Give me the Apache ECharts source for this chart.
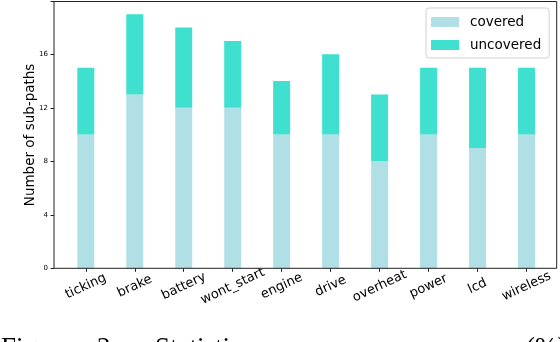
<!DOCTYPE html>
<html>
<head>
<meta charset="utf-8">
<script src="https://cdn.jsdelivr.net/npm/echarts@6/dist/echarts.min.js"></script>
<style>
html,body{margin:0;padding:0;background:#fff;}
#c{width:560px;height:342px;}
</style>
</head>
<body>
<div id="c"></div>
<script>
const categories = ['ticking','brake','battery','wont_start','engine','drive','overheat','power','lcd','wireless'];
const covered = [10,13,12,12,10,10,8,10,9,10];
const uncovered = [5,6,6,5,4,6,5,5,6,5];
const yTicks = [0,4,8,12,16];

const chart = echarts.init(document.getElementById('c'), null, {renderer:'canvas'});
const F = 'DejaVu Sans';
const CAP = '27px "Liberation Serif"';
chart.setOption({
  animation:false,
  textStyle:{fontFamily:F},
  grid:{left:61.3, right:9, top:1.5, bottom:73.7},
  xAxis:{
    type:'category', data:categories,
    axisLine:{show:false},
    axisTick:{show:true, alignWithLabel:true, length:3.5, lineStyle:{color:'#222'}},
    axisLabel:{rotate:25, fontSize:13, color:'#000', fontFamily:F, margin:18, align:'center', verticalAlign:'middle'}
  },
  yAxis:{
    type:'value', min:0, max:19.95, interval:4, offset:7.3,
    name:'Number of sub-paths', nameLocation:'middle', nameGap:17, nameMoveOverlap:false,
    nameTextStyle:{fontSize:13.5, color:'#000', fontFamily:F},
    axisLine:{show:false},
    axisTick:{show:true, length:3.5, lineStyle:{color:'#222'}},
    axisLabel:{fontSize:7, color:'#000', margin:6, fontFamily:F,
      formatter:v=> yTicks.includes(v) ? String(v) : ''},
    splitLine:{show:false}
  },
  legend:{
    orient:'vertical', left:426, top:8,
    itemWidth:28, itemHeight:10, itemGap:9,
    padding:[7,8,6,5],
    borderColor:'#d0d0d0', borderWidth:1, borderRadius:3,
    backgroundColor:'#fff',
    icon:'rect',
    textStyle:{fontSize:13.5, color:'#000', fontFamily:F, padding:[0,0,0,6]},
    data:['covered','uncovered']
  },
  series:[
    {name:'covered', type:'bar', stack:'s', data:covered, barWidth:17, itemStyle:{color:'#B0E0E6'}},
    {name:'uncovered', type:'bar', stack:'s', data:uncovered, barWidth:17, itemStyle:{color:'#40E0D0'}}
  ],
  graphic:[
    {type:'rect', shape:{x:54, y:1.5, width:502.7, height:266.8}, style:{fill:'none', stroke:'#222', lineWidth:1}, z:100, silent:true},
    {type:'text', left:1, top:335, style:{text:'Figure', font:CAP, fill:'#000'}},
    {type:'text', left:97, top:335, style:{text:'2:', font:CAP, fill:'#000'}},
    {type:'text', left:155, top:335, style:{text:'Statistics', font:CAP, fill:'#000'}},
    {type:'text', left:526, top:335, style:{text:'(%)', font:CAP, fill:'#000'}}
  ]
});
</script>
</body>
</html>
